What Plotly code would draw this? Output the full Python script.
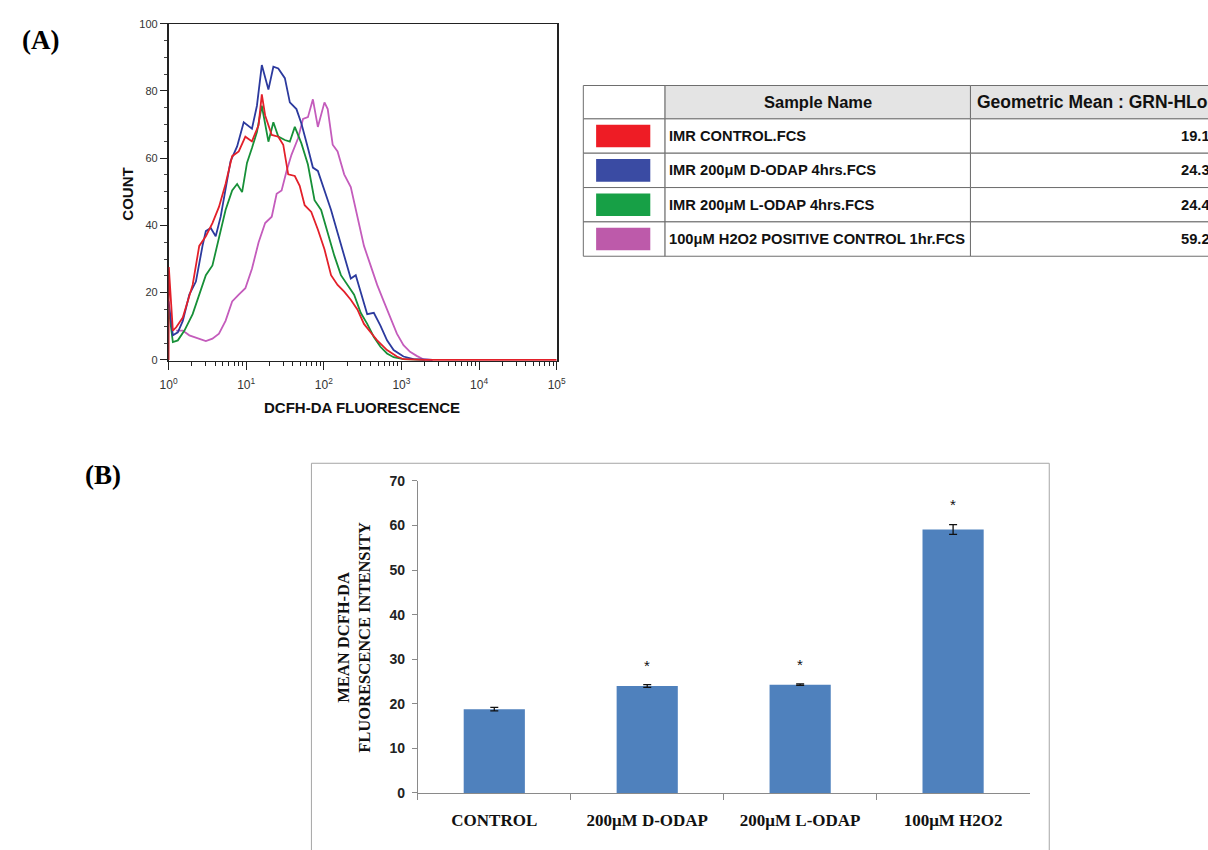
import plotly.graph_objects as go

W, H = 1208, 850

# ---------------- data: (A) flow-cytometry histograms ----------------
# x = log10(DCFH-DA fluorescence), y = count
red_log = [0.0, 0.003, 0.055, 0.098, 0.183, 0.246, 0.310, 0.395, 0.480, 0.565, 0.649, 0.734,
           0.819, 0.904, 0.989, 1.074, 1.159, 1.201, 1.244, 1.329, 1.413, 1.477, 1.541, 1.626,
           1.689, 1.753, 1.838, 1.923, 2.008, 2.093, 2.177, 2.262, 2.347, 2.432, 2.517, 2.602,
           2.687, 2.814, 2.941, 3.026, 3.3, 5.0]
red_count = [0, 27.6, 8.7, 9.7, 12.6, 17.4, 22.3, 33.9, 36.8, 40.7, 45.5, 52.3,
             60.6, 62.0, 66.4, 65.0, 69.8, 79.0, 72.7, 66.9, 66.4, 64.0, 55.2, 54.7,
             51.8, 46.0, 44.0, 38.8, 32.9, 25.2, 22.3, 20.3, 17.9, 15.0, 10.7, 8.2,
             5.8, 2.9, 1.0, 0.2, 0, 0]

blue_log = [0.0, 0.055, 0.119, 0.183, 0.267, 0.352, 0.437, 0.480, 0.543, 0.607, 0.671, 0.734,
            0.798, 0.883, 0.968, 1.074, 1.138, 1.201, 1.286, 1.350, 1.413, 1.498, 1.562, 1.647,
            1.711, 1.795, 1.859, 1.923, 2.008, 2.093, 2.177, 2.262, 2.347, 2.411, 2.475, 2.559,
            2.644, 2.729, 2.814, 2.899, 3.026, 3.154, 3.4]
blue_count = [17.4, 7.3, 8.2, 11.6, 19.4, 23.3, 33.9, 38.3, 39.2, 36.8, 42.6, 51.4,
              59.1, 63.5, 70.7, 68.8, 75.6, 87.7, 80.4, 87.2, 86.7, 83.8, 76.6, 74.6,
              70.3, 63.0, 57.2, 56.2, 50.4, 44.6, 37.8, 31.0, 24.2, 25.2, 20.3, 13.6,
              14.0, 10.2, 5.8, 2.9, 1.0, 0.2, 0]

green_log = [0.0, 0.055, 0.119, 0.204, 0.310, 0.395, 0.480, 0.565, 0.649, 0.734, 0.819, 0.883,
             0.947, 1.010, 1.074, 1.138, 1.201, 1.286, 1.350, 1.413, 1.498, 1.562, 1.626, 1.711,
             1.795, 1.880, 1.965, 2.050, 2.135, 2.220, 2.305, 2.390, 2.475, 2.559, 2.644, 2.729,
             2.814, 2.899, 3.026, 3.3]
green_count = [15.5, 5.3, 5.8, 8.7, 13.6, 19.4, 25.2, 28.1, 36.8, 44.6, 50.4, 52.3,
               49.9, 58.6, 63.0, 67.8, 75.6, 64.9, 70.7, 66.4, 65.4, 64.9, 69.3, 64.4,
               58.1, 47.5, 44.6, 37.8, 31.0, 25.2, 22.3, 19.4, 14.0, 10.7, 6.8, 3.9,
               1.9, 0.8, 0.2, 0]

magenta_log = [0.098, 0.183, 0.267, 0.395, 0.480, 0.565, 0.649, 0.734, 0.819, 0.904, 0.989, 1.074,
               1.159, 1.244, 1.329, 1.392, 1.456, 1.520, 1.583, 1.668, 1.732, 1.795, 1.859, 1.923,
               2.008, 2.050, 2.114, 2.177, 2.262, 2.347, 2.432, 2.517, 2.602, 2.687, 2.772, 2.857,
               2.941, 3.026, 3.111, 3.196, 3.281, 3.4]
magenta_count = [8.7, 8.7, 7.3, 6.3, 5.6, 6.3, 7.8, 11.6, 17.4, 19.4, 21.3, 27.1,
                 34.9, 40.7, 42.6, 49.4, 50.4, 56.2, 61.0, 65.9, 71.7, 72.2, 77.5, 69.3,
                 76.6, 74.6, 64.0, 62.0, 55.2, 51.4, 42.6, 33.9, 28.1, 22.3, 17.4, 12.6,
                 7.8, 4.4, 2.4, 1.2, 0.2, 0]

hist_xticks = [1, 10, 100, 1000, 10000, 100000]
hist_xticktext = ["10<sup>0</sup>", "10<sup>1</sup>", "10<sup>2</sup>",
                  "10<sup>3</sup>", "10<sup>4</sup>", "10<sup>5</sup>"]
hist_yticks = [0, 20, 40, 60, 80, 100]

# table data
sample_names = ["IMR CONTROL.FCS", "IMR 200μM D-ODAP 4hrs.FCS",
                "IMR 200μM L-ODAP 4hrs.FCS", "100μM H2O2 POSITIVE CONTROL 1hr.FCS"]
sample_colors = ["#ee1c25", "#3a4ba3", "#17a046", "#bd5aaa"]
geo_means = ["19.1", "24.3", "24.4", "59.2"]
table_headers = ["", "Sample Name", "Geometric Mean : GRN-HLog"]

# ---------------- data: (B) bar chart ----------------
categories = ["CONTROL", "200μM D-ODAP", "200μM L-ODAP", "100μM H2O2"]
mean_intensity = [18.8, 24.0, 24.3, 59.1]
sem_intensity = [0.4, 0.3, 0.15, 1.1]
significance = ["", "*", "*", "*"]
bar_yticks = [0, 10, 20, 30, 40, 50, 60, 70]

line_colors = {"red": "#e3202a", "blue": "#2c3a9e", "green": "#179038", "magenta": "#c45cbc"}


def X(p):
    """page pixel x -> paper fraction"""
    return p / W


def Y(p):
    """page pixel y -> paper fraction"""
    return 1 - p / H


fig = go.Figure()

# histogram traces (magenta under, red on top)
for logs, counts, col in [(magenta_log, magenta_count, line_colors["magenta"]),
                          (green_log, green_count, line_colors["green"]),
                          (blue_log, blue_count, line_colors["blue"]),
                          (red_log, red_count, line_colors["red"])]:
    fig.add_trace(go.Scatter(x=[10 ** v for v in logs], y=counts, mode="lines",
                             line=dict(color=col, width=1.8), xaxis="x", yaxis="y",
                             showlegend=False, hoverinfo="skip"))

# bar chart
fig.add_trace(go.Bar(x=categories, y=mean_intensity, xaxis="x2", yaxis="y2",
                     marker=dict(color="#4f81bd", line=dict(width=0)),
                     error_y=dict(type="data", array=sem_intensity, visible=True,
                                  color="#111111", thickness=1.3, width=4),
                     width=0.4, showlegend=False, hoverinfo="skip"))

minor_x = [m * d for d in [1, 10, 100, 1000, 10000] for m in range(2, 10)]

hist_tick_font = dict(family="Liberation Sans, Arial", size=11, color="#333333")
fig.update_layout(
    width=W, height=H, margin=dict(l=0, r=0, t=0, b=0),
    paper_bgcolor="white", plot_bgcolor="white",
    xaxis=dict(type="log", domain=[X(162), X(556)], range=[0, 5], anchor="y",
               tickmode="array", tickvals=hist_xticks, ticktext=hist_xticktext,
               ticks="outside", ticklen=8, tickwidth=1, tickcolor="#222",
               showline=True, linecolor="#222", linewidth=1.2, mirror=True,
               showgrid=False, zeroline=False,
               tickfont=dict(family="Liberation Sans, Arial", size=12, color="#333333"),
               layer="below traces", ticklabelstandoff=4,
               minor=dict(tickmode="array", tickvals=minor_x, ticks="outside",
                          ticklen=4, tickcolor="#222", showgrid=False)),
    yaxis=dict(domain=[Y(360), Y(16)], range=[-0.4, 100], anchor="x",
               tickmode="array", tickvals=hist_yticks,
               ticks="outside", ticklen=7, tickwidth=1, tickcolor="#222",
               showline=True, linecolor="#222", linewidth=1.5, mirror=True,
               showgrid=False, zeroline=False, tickfont=hist_tick_font,
               layer="below traces",
               minor=dict(dtick=5, ticks="outside", ticklen=3, tickcolor="#444",
                          showgrid=False)),
    xaxis2=dict(domain=[X(415), X(1036)], anchor="y2", type="category",
                range=[-0.5, 3.5], tickson="boundaries", ticks="outside", ticklen=6,
                tickcolor="#8a8a8a", showline=True, linecolor="#8a8a8a", linewidth=1,
                showgrid=False, zeroline=False, ticklabelstandoff=12,
                tickfont=dict(family="Liberation Serif, Times New Roman", size=17,
                              color="#111111", weight="bold")),
    yaxis2=dict(domain=[Y(800), Y(482)], anchor="x2", range=[0, 70],
                tickmode="array", tickvals=bar_yticks, ticks="outside", ticklen=5,
                tickcolor="#8a8a8a", showline=True, linecolor="#8a8a8a", linewidth=1,
                showgrid=False, zeroline=False, ticklabelstandoff=4,
                tickfont=dict(family="Liberation Sans, Arial", size=14, color="#222222",
                              weight="bold")),
)

shapes = []
annotations = []


def note(x, y, text, font, xanchor="center", textangle=0, xref="paper", yref="paper"):
    annotations.append(dict(x=x, y=y, xref=xref, yref=yref, text=text, showarrow=False,
                            xanchor=xanchor, yanchor="middle", textangle=textangle,
                            font=font))


# bar chart frame
shapes.append(dict(type="rect", xref="paper", yref="paper", x0=X(307), x1=X(1056),
                   y0=Y(870), y1=Y(464), line=dict(color="#a6a6a6", width=1),
                   fillcolor="rgba(0,0,0,0)", layer="below"))

# significance asterisks
for cat, m, e, s in zip(categories, mean_intensity, sem_intensity, significance):
    if s:
        note(cat, m + e + 4.4, s, dict(family="Liberation Sans, Arial", size=15, color="#111"),
             xref="x2", yref="y2")

# table (last column runs past the right edge of the picture, as in the source)
col_edges = [583, 666, 976, 1300]
row_edges = [79, 113, 148, 183, 218, 253]
border = dict(color="#6e6e6e", width=1)
for r in range(len(row_edges) - 1):
    for c in range(len(col_edges) - 1):
        fill = "#e4e4e4" if (r == 0 and c > 0) else "white"
        shapes.append(dict(type="rect", xref="paper", yref="paper",
                           x0=X(col_edges[c]), x1=X(col_edges[c + 1]),
                           y0=Y(row_edges[r + 1]), y1=Y(row_edges[r]),
                           line=border, fillcolor=fill, layer="below"))

hdr_font = dict(family="Liberation Sans, Arial", size=16.5, color="#111", weight="bold")
hdr_font_wide = dict(family="Liberation Sans, Arial", size=17.5, color="#111", weight="bold")
cell_font = dict(family="Liberation Sans, Arial", size=14.7, color="#111", weight="bold")
note(X((col_edges[1] + col_edges[2]) / 2), Y(96), table_headers[1], hdr_font)
note(X(981), Y(96), table_headers[2], hdr_font_wide, xanchor="left")
for i, (name, col, gm) in enumerate(zip(sample_names, sample_colors, geo_means)):
    top, bot = row_edges[i + 1], row_edges[i + 2]
    mid = (top + bot) / 2
    shapes.append(dict(type="rect", xref="paper", yref="paper", x0=X(596), x1=X(651),
                       y0=Y(bot - 6), y1=Y(top + 6), line=dict(width=0), fillcolor=col))
    note(X(668), Y(mid), name, cell_font, xanchor="left")
    note(X(1188), Y(mid), gm, cell_font, xanchor="left")

# axis titles and panel letters
bold_sans15 = dict(family="Liberation Sans, Arial", size=15, color="#111", weight="bold")
note(X(120), Y(190), "COUNT", bold_sans15, textangle=-90)
note(X(358), Y(407), "DCFH-DA FLUORESCENCE", bold_sans15)
note(X(350), Y(641), "MEAN DCFH-DA<br>FLUORESCENCE INTENSITY",
     dict(family="Liberation Serif, Times New Roman", size=16.5, color="#111", weight="bold"),
     textangle=-90)
letter_font = dict(family="Liberation Serif, Times New Roman", size=27, color="#000",
                   weight="bold")
note(X(32), Y(33), "(A)", letter_font)
note(X(95), Y(476), "(B)", letter_font)

fig.update_layout(shapes=shapes, annotations=annotations)
fig.write_html("out.html", config={"displayModeBar": False},
               post_script="document.body.style.margin='0px';"
                           "document.body.style.overflow='hidden';")
